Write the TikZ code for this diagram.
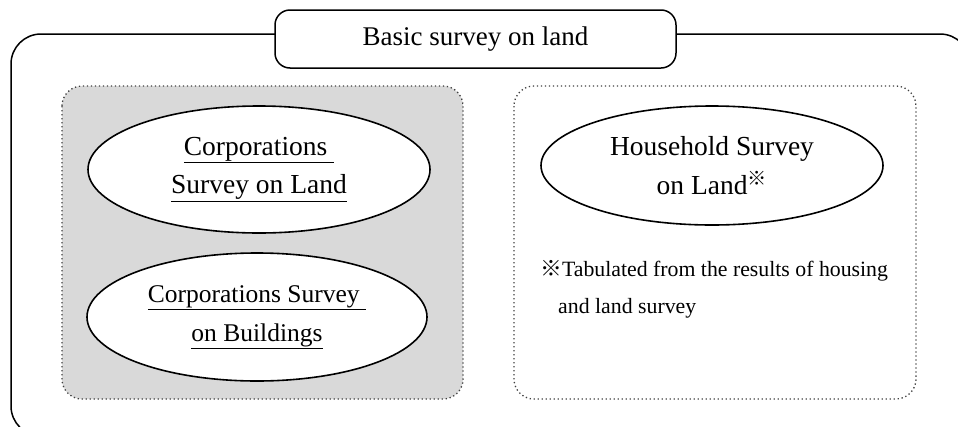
\documentclass[tikz,border=0pt]{standalone}
\usepackage{fontspec}
\setmainfont{Liberation Serif}
\newfontfamily\cjkfont{Noto Sans CJK JP}
\usetikzlibrary{shapes.geometric}
\definecolor{panelgray}{HTML}{D9D9D9}
\definecolor{dotgray}{HTML}{404040}
\tikzset{
  outerbox/.style={draw=black, line width=1.5pt, rounded corners=30pt},
  titlebox/.style={draw=black, fill=white, line width=1.5pt, rounded corners=15pt,
    minimum width=401pt, minimum height=58pt, inner sep=0pt,
    font=\fontsize{27}{32}\selectfont},
  dotbox/.style={draw=dotgray, line width=1.3pt, dash pattern=on 1.3pt off 2.7pt,
    rounded corners=20pt},
  oval/.style={ellipse, draw=black, fill=white, line width=1.6pt, inner sep=0pt,
    minimum width=342pt, minimum height=127pt, align=center,
    font=\fontsize{27.5}{38.5}\selectfont},
  notetext/.style={inner sep=0pt, anchor=base west, font=\fontsize{21.8}{37}\selectfont}
}
\newcommand{\refmark}{{\cjkfont ※}}
\begin{document}
\begin{tikzpicture}[x=1pt, y=-1pt]
  \clip (0,0) rectangle (958,426);
  % outer frame
  \draw[outerbox] (11,34) rectangle (970,436);
  % panels
  \draw[dotbox, fill=panelgray] (62,86) rectangle (463,399);
  \draw[dotbox] (514,86) rectangle (916,399);
  % title
  \node[titlebox] (title) at (475.5,39) {Basic survey on land};
  % ellipses
  \node[oval] (corpland) at (259,169.5) {\underline{Corporations\ }\\\underline{Survey on Land}};
  \node[oval, minimum width=340pt, minimum height=128pt, font=\fontsize{25.5}{39}\selectfont]
    (corpbuild) at (257,317) {\underline{Corporations Survey\ }\\\underline{on Buildings}};
  \node[oval, minimum height=119pt] (household) at (712,165.5) {Household Survey\\on Land\textsuperscript{\refmark}};
  % note
  \node[notetext] (note1) at (540,276) {\refmark Tabulated from the results of housing};
  \node[notetext] (note2) at (558,313) {and land survey};
\end{tikzpicture}
\end{document}
